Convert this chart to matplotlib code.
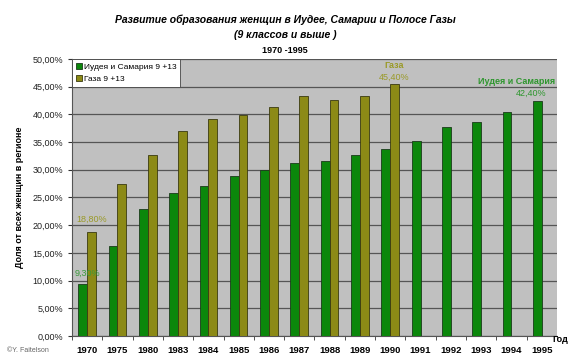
import matplotlib.pyplot as plt
import numpy as np
from matplotlib.ticker import FuncFormatter, FixedLocator

plt.rcParams['font.family'] = ['Liberation Sans', 'DejaVu Sans']

years = ['1970', '1975', '1980', '1983', '1984', '1985', '1986', '1987',
         '1988', '1989', '1990', '1991', '1992', '1993', '1994', '1995']
judea = [9.3, 16.2, 22.9, 25.9, 27.1, 28.9, 30.0, 31.3,
         31.5, 32.7, 33.8, 35.2, 37.7, 38.6, 40.4, 42.4]
gaza = [18.8, 27.5, 32.7, 37.0, 39.1, 39.9, 41.4, 43.3, 42.6, 43.3, 45.4]

green = '#0b870b'
olive = '#8c8a16'

fig = plt.figure(figsize=(5.7, 3.64), dpi=100)
ax = fig.add_axes([0.1263, 0.0769, 0.8507, 0.7611])
ax.set_facecolor('#c0c0c0')

x = np.arange(len(years))
w = 0.29
b1 = ax.bar(x - w / 2, judea, w, color=green, edgecolor='#1a3a1a', lw=0.6,
            label='Иудея и Самария 9 +13', zorder=3)
b2 = ax.bar(x[:len(gaza)] + w / 2, gaza, w, color=olive, edgecolor='#3a3a10',
            lw=0.6, label='Газа 9 +13', zorder=3)

ax.set_xlim(-0.5, len(years) - 0.5)
ax.set_ylim(0, 50)
ax.set_yticks(np.arange(0, 51, 5))
ax.yaxis.set_major_formatter(FuncFormatter(lambda v, p: f'{v:.2f}%'.replace('.', ',')))
ax.grid(axis='y', color='#555555', lw=0.9, zorder=1)

ax.set_xticks(x)
ax.set_xticklabels(years, fontsize=6.8, fontweight='bold')
ax.xaxis.set_minor_locator(FixedLocator(np.arange(-0.5, len(years), 1)))
ax.tick_params(axis='x', which='major', length=0, pad=7)
ax.tick_params(axis='x', which='minor', length=3, color='#333333')
ax.tick_params(axis='y', labelsize=6.5, length=3, color='#333333')
for lab in ax.get_yticklabels():
    lab.set_color('#222222')

for s in ['top', 'right']:
    ax.spines[s].set_visible(False)
ax.spines['left'].set_color('#555555')
ax.spines['bottom'].set_color('#555555')

ax.set_ylabel('Доля от всех женщин в регионе', fontsize=6.5, fontweight='bold',
              labelpad=6)

# подписи значений
ax.text(x[0], judea[0] + 1.2, '9,30%', color='#3a9a3a', fontsize=6.5,
        ha='center', va='bottom', zorder=4)
ax.text(x[0] + w / 2, gaza[0] + 1.4, '18,80%', color='#9a9a28', fontsize=6.5,
        ha='center', va='bottom')
ax.text(x[len(gaza) - 1] + w / 2, gaza[-1] + 2.6, 'Газа', color='#9a9a28',
        fontsize=6.5, fontweight='bold', ha='center', va='bottom')
ax.text(x[len(gaza) - 1] + w / 2, gaza[-1] + 0.4, '45,40%', color='#9a9a28',
        fontsize=6.5, ha='center', va='bottom')
ax.text(x[-1] + 0.45, judea[-1] + 2.8, 'Иудея и Самария', color='#2e962e',
        fontsize=6.5, fontweight='bold', ha='right', va='bottom')
ax.text(x[-1] + 0.15, judea[-1] + 0.6, '42,40%', color='#2e962e',
        fontsize=6.5, ha='right', va='bottom')

leg = ax.legend(loc='upper left', fontsize=6, frameon=True, fancybox=False,
                borderaxespad=0, handlelength=0.7, handleheight=0.7,
                handletextpad=0.3, borderpad=0.45, labelspacing=0.55)
leg.get_frame().set_edgecolor('#444444')
leg.get_frame().set_linewidth(0.6)
leg.get_frame().set_facecolor('white')
leg.get_frame().set_alpha(1)
leg.set_zorder(5)

fig.text(0.5, 0.945, 'Развитие образования женщин в Иудее, Самарии и Полосе Газы',
         ha='center', va='center', fontsize=7.5, fontweight='bold', style='italic')
fig.text(0.5, 0.903, '(9 классов и выше )', ha='center', va='center',
         fontsize=7.5, fontweight='bold', style='italic')
fig.text(0.5, 0.862, '1970 -1995', ha='center', va='center', fontsize=6.5,
         fontweight='bold')
fig.text(0.983, 0.066, 'Год', ha='center', va='center', fontsize=6.5,
         fontweight='bold')
fig.text(0.012, 0.038, '©Y. Faitelson', ha='left', va='center', fontsize=5,
         color='#666666')

fig.savefig('out.png', dpi=100)
